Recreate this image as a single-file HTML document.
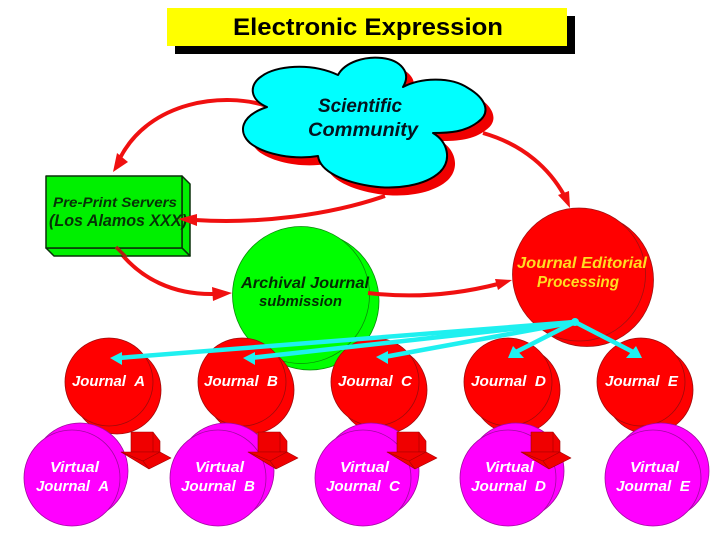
<!DOCTYPE html>
<html><head><meta charset="utf-8"><style>
html,body{margin:0;padding:0;background:#fff}
svg{display:block}
text{font-family:"Liberation Sans",sans-serif;font-weight:bold;font-style:italic}
</style></head><body>
<svg width="720" height="540" viewBox="0 0 720 540" xmlns="http://www.w3.org/2000/svg">
<rect width="720" height="540" fill="#fff"/>
<!-- Title -->
<rect x="175" y="16" width="400" height="38" fill="#000"/>
<rect x="167" y="8" width="400" height="38" fill="#ffff00"/>
<text x="233" y="35" font-size="24" textLength="270" lengthAdjust="spacingAndGlyphs" style="font-style:normal" fill="#000">Electronic Expression</text>

<!-- Green archival circle -->
<circle cx="310" cy="301" r="69" fill="#00ff00" stroke="#0a8a0a" stroke-width="0.8"/>
<circle cx="301" cy="295" r="68.5" fill="#00ff00" stroke="#0a8a0a" stroke-width="0.8"/>
<text x="241" y="288" font-size="16" textLength="128" lengthAdjust="spacingAndGlyphs" fill="#032a03">Archival Journal</text>
<text x="259" y="306" font-size="15" textLength="83" lengthAdjust="spacingAndGlyphs" fill="#032a03">submission</text>

<!-- Red curves -->
<g fill="none" stroke="#f01010" stroke-width="4">
<path d="M267 106C225 92 150 100 120 158"/>
<path d="M385 196C330 215 260 224 195 220"/>
<path d="M116 247C140 280 175 295 215 294"/>
<path d="M368 293C410 298 455 295 498 284"/>
<path d="M483 133C525 145 550 170 564 195"/>
</g>
<g fill="#f01010">
<polygon points="113,172 117,153 128,162"/>
<polygon points="232,293 212,287 213,301"/>
<polygon points="512,280 495,279 498,290"/>
<polygon points="570,208 558,195 569,191"/>
</g>

<!-- Cloud -->
<path transform="translate(8,8)" fill="#f00000" d="M267 107C250 100 248 85 262 76C275 66 310 62 338 75C345 62 365 56 382 58C400 60 412 72 403 87C420 78 450 76 468 88C485 98 492 112 478 122C465 132 450 133 433 133C448 142 452 160 440 172C425 186 395 190 370 186C345 182 320 172 318 156C295 160 265 155 250 143C238 132 240 116 267 107Z"/>
<path fill="#00ffff" stroke="#000" stroke-width="2" stroke-linejoin="round" d="M267 107C250 100 248 85 262 76C275 66 310 62 338 75C345 62 365 56 382 58C400 60 412 72 403 87C420 78 450 76 468 88C485 98 492 112 478 122C465 132 450 133 433 133C448 142 452 160 440 172C425 186 395 190 370 186C345 182 320 172 318 156C295 160 265 155 250 143C238 132 240 116 267 107Z"/>
<text x="318" y="112" font-size="19" textLength="84" lengthAdjust="spacingAndGlyphs" fill="#04141e">Scientific</text>
<text x="308" y="136" font-size="19" textLength="110" lengthAdjust="spacingAndGlyphs" fill="#04141e">Community</text>

<!-- Pre-print box -->
<g stroke="#0a300a" stroke-width="1.5" stroke-linejoin="round" fill="#00f000">
<polygon points="182,176 190,184 190,256 182,248"/>
<polygon points="46,248 182,248 190,256 54,256"/>
<rect x="46" y="176" width="136" height="72" fill="#00f000"/>
</g>
<text x="53" y="207" font-size="14" textLength="124" lengthAdjust="spacingAndGlyphs" fill="#063206">Pre-Print Servers</text>
<text x="49" y="226" font-size="16.5" textLength="138" lengthAdjust="spacingAndGlyphs" fill="#063206">(Los Alamos XXX)</text>
<polygon points="178,219 197,214 197,226" fill="#f01010"/>
<path d="M116 247L126 257" stroke="#b02010" stroke-width="3.5"/>

<!-- Journal editorial -->
<g stroke="#a01010" stroke-width="0.8" fill="#ff0000">
<circle cx="587" cy="280" r="66.5"/>
<circle cx="579" cy="274.5" r="66.5"/>
</g>
<text x="517" y="268" font-size="16" textLength="130" lengthAdjust="spacingAndGlyphs" fill="#ffdd22">Journal Editorial</text>
<text x="537" y="287" font-size="15.5" textLength="82" lengthAdjust="spacingAndGlyphs" fill="#ffdd22">Processing</text>

<!-- Journals -->
<g stroke="#a00a0a" stroke-width="0.8" fill="#ff0000">
<circle cx="117" cy="390" r="44"/><circle cx="109" cy="382" r="44"/>
<circle cx="250" cy="390" r="44"/><circle cx="242" cy="382" r="44"/>
<circle cx="383" cy="390" r="44"/><circle cx="375" cy="382" r="44"/>
<circle cx="516" cy="390" r="44"/><circle cx="508" cy="382" r="44"/>
<circle cx="649" cy="390" r="44"/><circle cx="641" cy="382" r="44"/>
</g>
<g font-size="15" fill="#fff">
<text x="72" y="386" textLength="73" lengthAdjust="spacingAndGlyphs">Journal&#160;&#160;A</text>
<text x="204" y="386" textLength="74" lengthAdjust="spacingAndGlyphs">Journal&#160;&#160;B</text>
<text x="338" y="386" textLength="74" lengthAdjust="spacingAndGlyphs">Journal&#160;&#160;C</text>
<text x="471" y="386" textLength="75" lengthAdjust="spacingAndGlyphs">Journal&#160;&#160;D</text>
<text x="605" y="386" textLength="73" lengthAdjust="spacingAndGlyphs">Journal&#160;&#160;E</text>
</g>

<!-- Cyan arrows -->
<g stroke="#1ff0f0" stroke-width="4.5" fill="none">
<path d="M575 322L118 358"/>
<path d="M575 322L250 358"/>
<path d="M575 322L384 357"/>
<path d="M575 322L514 353"/>
<path d="M575 322L635 353"/>
</g>
<circle cx="575" cy="322" r="4" fill="#1ff0f0"/>
<g fill="#1ff0f0">
<polygon points="110,358 122,352 122,365"/>
<polygon points="243,358 255,352 255,365"/>
<polygon points="376,357 388,351 388,364"/>
<polygon points="508,358 524,358 513,346"/>
<polygon points="642,358 626,358 636,346"/>
</g>

<!-- Virtual journals -->
<g stroke="#a00aa0" stroke-width="0.8" fill="#ff00ff">
<circle cx="80" cy="471" r="48"/><circle cx="72" cy="478" r="48"/>
<circle cx="226" cy="471" r="48"/><circle cx="218" cy="478" r="48"/>
<circle cx="371" cy="471" r="48"/><circle cx="363" cy="478" r="48"/>
<circle cx="516" cy="471" r="48"/><circle cx="508" cy="478" r="48"/>
<circle cx="661" cy="471" r="48"/><circle cx="653" cy="478" r="48"/>
</g>
<g font-size="15" fill="#fff">
<text x="50" y="472" textLength="49" lengthAdjust="spacingAndGlyphs">Virtual</text>
<text x="36" y="491" textLength="73" lengthAdjust="spacingAndGlyphs">Journal&#160;&#160;A</text>
<text x="195" y="472" textLength="49" lengthAdjust="spacingAndGlyphs">Virtual</text>
<text x="181" y="491" textLength="74" lengthAdjust="spacingAndGlyphs">Journal&#160;&#160;B</text>
<text x="340" y="472" textLength="49" lengthAdjust="spacingAndGlyphs">Virtual</text>
<text x="326" y="491" textLength="74" lengthAdjust="spacingAndGlyphs">Journal&#160;&#160;C</text>
<text x="485" y="472" textLength="49" lengthAdjust="spacingAndGlyphs">Virtual</text>
<text x="471" y="491" textLength="75" lengthAdjust="spacingAndGlyphs">Journal&#160;&#160;D</text>
<text x="630" y="472" textLength="49" lengthAdjust="spacingAndGlyphs">Virtual</text>
<text x="616" y="491" textLength="74" lengthAdjust="spacingAndGlyphs">Journal&#160;&#160;E</text>
</g>

<!-- Block arrows -->
<defs><g id="b" fill="#f00000" stroke="#a00000" stroke-width="0.6" stroke-linejoin="round">
<polygon points="131,432 153,432 160,441 160,452 131,452"/>
<polygon points="121,452 160,452 171,458 149,469"/>
<path d="M153,432V452M121,452L143,461L149,469M143,461L160,452" fill="none"/>
</g></defs>
<use href="#b"/>
<use href="#b" x="127"/>
<use href="#b" x="266"/>
<use href="#b" x="400"/>
</svg>
</body></html>
